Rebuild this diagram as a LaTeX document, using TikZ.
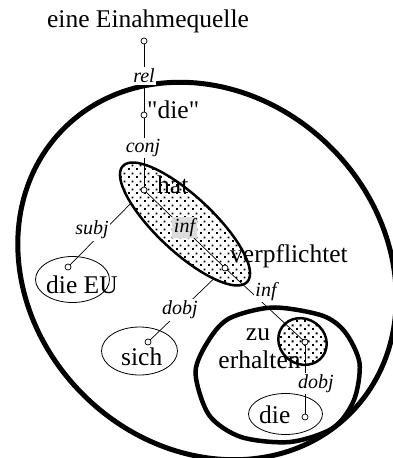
\documentclass[tikz,border=0pt]{standalone}
\usepackage{fontspec}
\setmainfont{Liberation Serif}
\newfontfamily\plainq{Liberation Serif}
\usetikzlibrary{patterns.meta}
\definecolor{labgray}{RGB}{220,220,220}
\tikzdeclarepattern{
  name=stagdots, type=uncolored,
  bottom left={(0pt,0pt)}, top right={(8pt,8pt)}, tile size={(8pt,8pt)},
  code={\fill (0.1pt,0.1pt) rectangle (2.1pt,2.1pt);
        \fill (4.1pt,4.1pt) rectangle (6.1pt,6.1pt);}
}
\tikzset{
  outerE/.style={line width=5pt},
  groupE/.style={line width=4.5pt},
  thinE/.style={line width=0.8pt},
  dotE/.style={line width=2.5pt},
  edge/.style={line width=0.7pt},
  dot/.style={circle, draw, fill=white, inner sep=0pt, minimum size=6pt, line width=0.7pt},
  lab/.style={font=\fontsize{20}{22}\selectfont\itshape, fill=white, inner sep=1.5pt},
  word/.style={font=\fontsize{25.5}{28.5}\selectfont, inner sep=0pt}
}
\begin{document}
\begin{tikzpicture}[x=1pt,y=-1pt]
\useasboundingbox (0,0) rectangle (392,458);
% positions of the word nodes
\coordinate (eq) at (144,41);
\coordinate (die1) at (144,115);
\coordinate (hat) at (144,190);
\coordinate (verp) at (225,268);
\coordinate (dieeu) at (68,267);
\coordinate (sich) at (148,342);
\coordinate (erh) at (305,342);
\coordinate (die2) at (305,417);
% enclosing outlines (rotation angles are counter-clockwise on the page)
\draw[outerE, rotate around={-44.5:(207,271)}] (207,271) ellipse (202 and 175);
\draw[groupE] plot[smooth cycle] coordinates {
  (273,307.5) (322,315.5) (345,332) (359.5,363) (354,400) (333,428)
  (290,442) (241,437) (209,415) (195.5,372) (209.5,339) (230,318)};
\draw[thinE] (72.5,279.5) ellipse (37 and 23);
\draw[thinE] (139.5,351) ellipse (38 and 24);
\draw[thinE] (285.5,414) ellipse (37 and 20.5);
% connectors hidden inside the dotted group
\draw[edge] (hat) -- (dieeu);
\draw[edge] (verp) -- (sich);
% dotted groups
\fill[white, rotate around={-43:(185,224)}] (185,224) ellipse (85 and 28);
\draw[dotE, pattern=stagdots, rotate around={-43:(185,224)}] (185,224) ellipse (85 and 28);
\fill[white, rotate around={-35:(302.5,341.5)}] (302.5,341.5) ellipse (25 and 22.5);
\draw[dotE, pattern=stagdots, rotate around={-35:(302.5,341.5)}] (302.5,341.5) ellipse (25 and 22.5);
% other connectors
\draw[edge] (eq) -- (die1);
\draw[edge] (die1) -- (hat);
\draw[edge] (hat) -- (verp);
\draw[edge] (verp) -- (erh);
\draw[edge] (erh) -- (die2);
% connector labels
\node[lab] (lrel) at (144,76) {rel};
\node[lab] (lconj) at (143,148) {conj};
\node[lab] (lsubj) at (92,230) {subj};
\node[lab, fill=labgray, minimum width=25pt, minimum height=21pt, inner sep=0pt] (linf) at (184.5,227.5) {inf};
\node[lab] (ldobj) at (180,310) {dobj};
\node[lab] (linf2) at (266,291.5) {inf};
\node[lab] (ldobj2) at (316,383.5) {dobj};
% word circles
\foreach \n in {eq,die1,hat,verp,dieeu,sich,erh,die2} \node[dot] (\n c) at (\n) {};
% words
\node[word, anchor=base] (teq) at (148,27) {eine Einahmequelle};
\node[word, anchor=base west] (tdie1) at (147,118) {{\plainq"}die{\plainq"}};
\node[word, anchor=base west] (that) at (157,193) {hat};
\node[word, anchor=base west] (tverp) at (230,262) {verpflichtet};
\node[word, anchor=base west] (tdieeu) at (46,293) {die EU};
\node[word, anchor=base west] (tsich) at (121,365) {sich};
\node[word, anchor=base] (tzu) at (258,340) {zu};
\node[word, anchor=base] (terh) at (259.5,368) {erhalten};
\node[word, anchor=base west] (tdie2) at (259,423) {die};
\end{tikzpicture}
\end{document}
